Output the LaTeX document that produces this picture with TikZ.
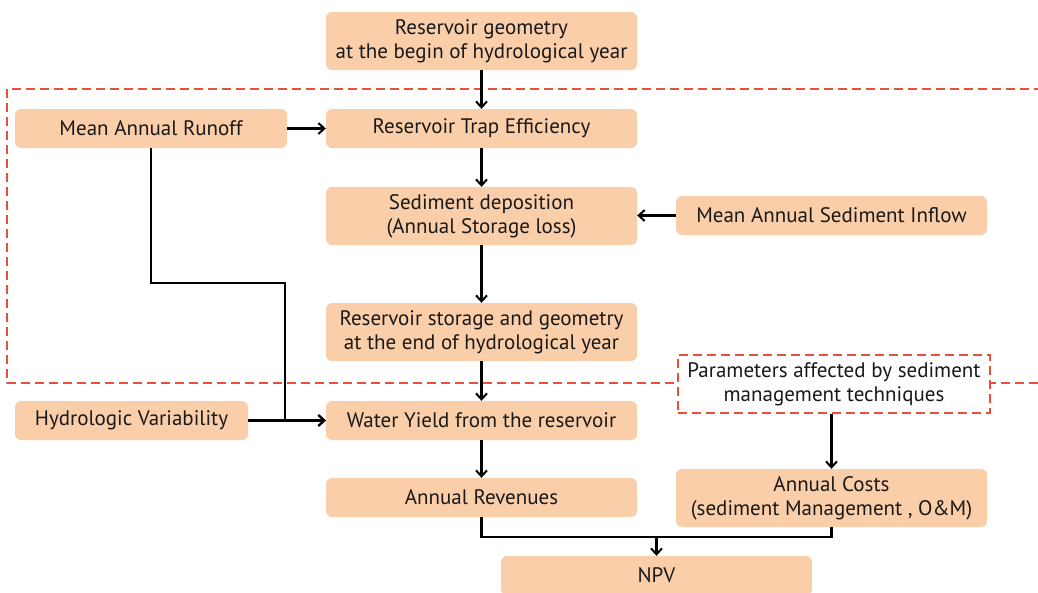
\documentclass[tikz,border=0pt]{standalone}
\usepackage{fontspec}
\setmainfont{PT Sans}
\usetikzlibrary{arrows.meta}
\definecolor{peach}{RGB}{251,206,170}
\definecolor{dashred}{RGB}{232,80,58}
\begin{document}
\begin{tikzpicture}[x=1pt,y=-1pt,
  box/.style={rectangle, rounded corners=6pt, fill=peach, align=center,
    inner sep=0pt, minimum width=311pt, minimum height=39pt, text=black!90,
    font=\fontsize{21}{24}\selectfont},
  tall/.style={minimum height=58pt},
  link/.style={line width=2.2pt, black},
  arr/.style={link, -{Straight Barb[length=6pt,width=11pt,line width=2pt]}},
  frame/.style={dashred, line width=1.5pt, dash pattern=on 9pt off 5pt}]
\useasboundingbox (0,0) rectangle (1038,592);

% region of parameters affected by sediment management
\draw[frame] (7,89) rectangle (1050,383);

\node[box,tall] (geom) at (481.5,41) {Reservoir geometry\\ at the begin of hydrological year};
\node[box,minimum width=272pt] (mar) at (151,128.5) {Mean Annual Runoff};
\node[box] (te) at (481.5,128.5) {Reservoir Trap Efficiency};
\node[box,tall] (sd) at (481.5,216) {Sediment deposition\\(Annual Storage loss)};
\node[box] (masi) at (831.5,215.5) {Mean Annual Sediment Inflow};
\node[box,tall] (rsg) at (481.5,332) {Reservoir storage and geometry\\ at the end of hydrological year};
\node[box,tall,fill=white,rounded corners=0pt,draw=dashred,line width=1.5pt,
  dash pattern=on 9pt off 5pt,minimum width=312pt] (param) at (834,384)
  {Parameters affected by sediment\\management techniques};
\node[box,minimum width=233pt] (hv) at (131.5,420.5) {Hydrologic Variability};
\node[box] (wy) at (481.5,420.5) {Water Yield from the reservoir};
\node[box] (ar) at (481.5,497.5) {Annual Revenues};
\node[box,tall] (ac) at (831.5,498) {Annual Costs\\(sediment Management , O\&M)};
\node[box] (npv) at (656.5,575.5) {NPV};

\coordinate (bend) at (285,283);
\coordinate (join) at (656.5,537);

\draw[arr] (geom) -- (te);
\draw[arr] (mar) -- (te);
\draw[arr] (te) -- (sd);
\draw[arr] (masi.west) -- (masi.west -| sd.east);
\draw[arr] (sd) -- (rsg);
\draw[arr] (rsg) -- (wy);
\draw[arr] (hv) -- (wy);
\draw[arr] (mar.south) |- (bend) |- (wy.west);
\draw[arr] (wy) -- (ar);
\draw[arr] (param.south -| ac.north) -- (ac.north);
\draw[link] (ar.south) |- (join) -| (ac.south);
\draw[arr] (join) -- (npv.north);
\end{tikzpicture}
\end{document}
